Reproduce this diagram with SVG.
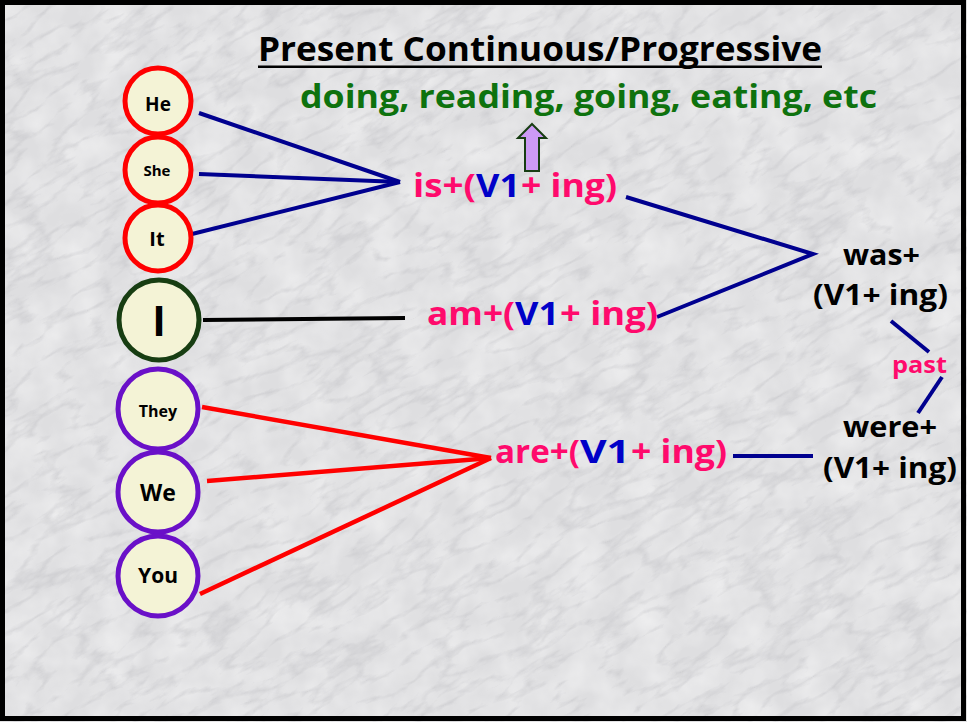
<svg xmlns="http://www.w3.org/2000/svg" width="967" height="722" viewBox="0 0 967 722">
<defs>
<filter id="marble" filterUnits="userSpaceOnUse" x="-300" y="-300" width="1567" height="1322">
<feTurbulence type="turbulence" baseFrequency="0.018 0.05" numOctaves="4" seed="11" result="n"/>
<feColorMatrix in="n" type="matrix" values="0 0 0 0 0.42  0 0 0 0 0.42  0 0 0 0 0.45  -2.4 0 0 0 0.7"/>
</filter>
<filter id="mottle" filterUnits="userSpaceOnUse" x="0" y="0" width="967" height="722">
<feTurbulence type="fractalNoise" baseFrequency="0.03" numOctaves="3" seed="4" result="m"/>
<feColorMatrix in="m" type="matrix" values="0 0 0 0 1  0 0 0 0 1  0 0 0 0 1  1.2 0 0 0 -0.35"/>
</filter>
<style>
text{font-family:"Open Sans",Lato,"Liberation Sans",sans-serif;font-weight:bold}
.c{fill:#f4f3d6;stroke-width:5}
.red{stroke:#ff0000}
.pur{stroke:#6a10c8}
.grn{stroke:#173d12}
.lbl{fill:#000;text-anchor:middle}
.pk{fill:#ff0a6c}
.bl{fill:#0000c8}
.blk{fill:#000}
.bline{stroke:#00008f;stroke-width:4;fill:none}
.rline{stroke:#ff0000;stroke-width:4.5;fill:none}
</style>
</defs>
<rect x="0" y="0" width="967" height="722" fill="#dedee0"/>
<rect x="0" y="0" width="967" height="722" filter="url(#mottle)" opacity="0.6"/>
<g transform="rotate(-30 483 361)">
<rect x="-300" y="-300" width="1567" height="1322" filter="url(#marble)" opacity="0.45"/>
</g>
<rect x="2.5" y="2.5" width="961" height="716" fill="none" stroke="#000" stroke-width="5"/>

<g id="title">
<text x="258" y="61" font-size="34" textLength="564" lengthAdjust="spacingAndGlyphs" class="blk">Present Continuous/Progressive</text>
<rect x="258" y="65.5" width="564" height="2.5" fill="#000"/>
</g>
<g id="examples">
<text x="300" y="108" font-size="33" textLength="577" lengthAdjust="spacingAndGlyphs" fill="#0e720e">doing, reading, going, eating, etc</text>
</g>
<g id="arrow">
<polygon points="532,124 546,138 539,138 539,171 525,171 525,138 518,138" fill="#cc9af5" stroke="#173d12" stroke-width="2"/>
</g>

<g id="connectors">
<line class="bline" x1="199" y1="113" x2="400" y2="182"/>
<line class="bline" x1="199" y1="174" x2="400" y2="182"/>
<line class="bline" x1="192" y1="234" x2="400" y2="182"/>
<line x1="203" y1="320" x2="405" y2="318" stroke="#000" stroke-width="4"/>
<line class="rline" x1="202" y1="407" x2="491" y2="458"/>
<line class="rline" x1="207" y1="481" x2="491" y2="458"/>
<line class="rline" x1="200" y1="594" x2="491" y2="458"/>
<polyline class="bline" points="626,197 813,254 657,317"/>
<line class="bline" x1="733" y1="456" x2="813" y2="456"/>
<line class="bline" x1="891" y1="321" x2="929" y2="352"/>
<line class="bline" x1="942" y1="377" x2="918" y2="413"/>
</g>

<g id="he"><circle class="c red" cx="158" cy="101" r="33"/><text class="lbl" x="158" y="111" font-size="19">He</text></g>
<g id="she"><circle class="c red" cx="158" cy="170" r="33"/><text class="lbl" x="157" y="176" font-size="15">She</text></g>
<g id="it"><circle class="c red" cx="158" cy="238" r="33"/><text class="lbl" x="157" y="246" font-size="20">It</text></g>
<g id="i"><circle class="c grn" cx="159" cy="320" r="40"/><text class="lbl" x="159" y="336" font-size="41">I</text></g>
<g id="they"><circle class="c pur" cx="158" cy="409" r="40"/><text class="lbl" x="158" y="417" font-size="16">They</text></g>
<g id="we"><circle class="c pur" cx="158" cy="492" r="40"/><text class="lbl" x="158" y="501" font-size="23">We</text></g>
<g id="you"><circle class="c pur" cx="158" cy="576" r="40"/><text class="lbl" x="158" y="583" font-size="21">You</text></g>

<g id="is">
<text y="197" font-size="33"><tspan class="pk" x="413" textLength="63" lengthAdjust="spacingAndGlyphs">is+(</tspan><tspan class="bl" x="476" textLength="44" lengthAdjust="spacingAndGlyphs">V1</tspan><tspan class="pk" x="521" textLength="96" lengthAdjust="spacingAndGlyphs">+ ing)</tspan></text>
</g>
<g id="am">
<text y="325" font-size="33"><tspan class="pk" x="427" textLength="88" lengthAdjust="spacingAndGlyphs">am+(</tspan><tspan class="bl" x="515" textLength="44" lengthAdjust="spacingAndGlyphs">V1</tspan><tspan class="pk" x="560" textLength="98" lengthAdjust="spacingAndGlyphs">+ ing)</tspan></text>
</g>
<g id="are">
<text y="463" font-size="33"><tspan class="pk" x="495" textLength="85" lengthAdjust="spacingAndGlyphs">are+(</tspan><tspan class="bl" x="580" textLength="50" lengthAdjust="spacingAndGlyphs">V1</tspan><tspan class="pk" x="631" textLength="96" lengthAdjust="spacingAndGlyphs">+ ing)</tspan></text>
</g>
<g id="was">
<text class="blk" x="843" y="265" font-size="29" textLength="77" lengthAdjust="spacingAndGlyphs">was+</text>
<text class="blk" x="813" y="305" font-size="29" textLength="135" lengthAdjust="spacingAndGlyphs">(V1+ ing)</text>
</g>
<g id="past">
<text class="pk" x="892" y="373" font-size="23" textLength="55" lengthAdjust="spacingAndGlyphs">past</text>
</g>
<g id="were">
<text class="blk" x="843" y="437" font-size="29" textLength="94" lengthAdjust="spacingAndGlyphs">were+</text>
<text class="blk" x="823" y="478" font-size="29" textLength="134" lengthAdjust="spacingAndGlyphs">(V1+ ing)</text>
</g>
</svg>
